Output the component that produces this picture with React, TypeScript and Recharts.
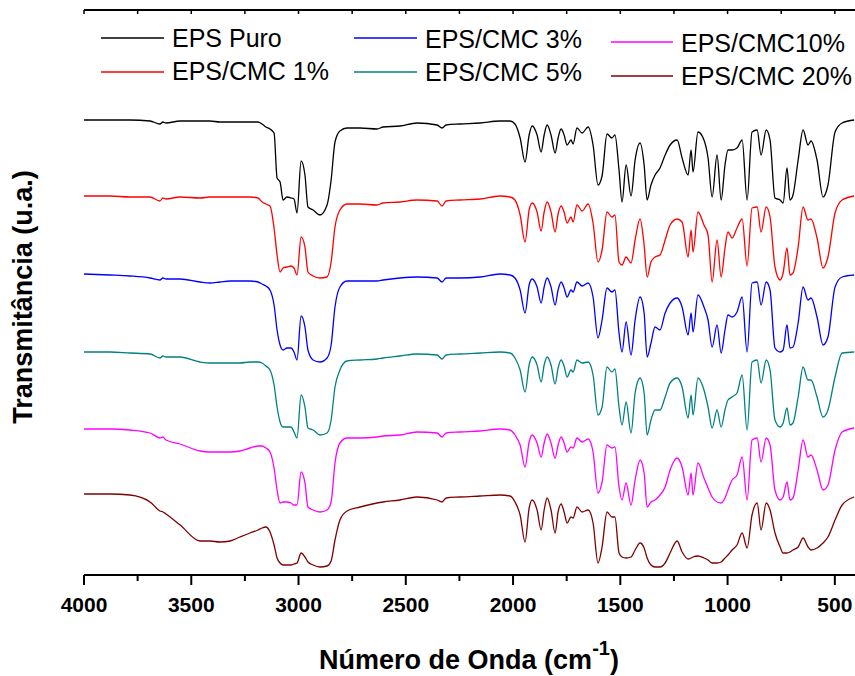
import React from 'react';
import { LineChart, Line, XAxis, YAxis, Legend, ReferenceLine } from 'recharts';

// Wavenumbers (cm-1), shared grid for all spectra
const wavenumbers = [
  4000, 3879, 3786, 3692, 3646, 3632, 3618, 3552, 3459, 3413,
  3366, 3319, 3273, 3226, 3189,
  3170, 3152, 3133, 3114, 3100, 3086, 3072, 3054, 3035, 3021, 3007,
  2988, 2970, 2956, 2932, 2900, 2867, 2848, 2830, 2807, 2774,
  2713, 2634, 2606, 2527, 2448, 2354, 2331, 2312, 2247, 2154,
  2061, 2014, 1991, 1967, 1944, 1925, 1911, 1888, 1869, 1855,
  1841, 1823, 1804, 1790, 1776, 1762, 1748, 1730, 1720, 1702,
  1678, 1650, 1627, 1604, 1585, 1562, 1539, 1525, 1506, 1492,
  1473, 1450, 1431, 1408, 1389, 1375, 1357, 1338, 1315, 1291,
  1268, 1235, 1212, 1184, 1170, 1161, 1138, 1110, 1091, 1072,
  1049, 1030, 1012, 998, 979, 956, 932, 909, 886, 862,
  844, 820, 802, 779, 755, 741, 723, 709, 695, 671,
  648, 625, 611, 583, 555, 532, 499, 466, 410,
];

// Transmittance (arbitrary units, stacked)
const epsPuro = [
  455, 455, 455, 454, 451, 453, 452, 454, 454, 454,
  453, 453, 453, 453, 453,
  451, 448, 446, 442, 397, 393, 375, 378, 377, 376, 362,
  414, 400, 368, 365, 360, 370, 395, 433, 444, 447,
  447, 446, 448, 449, 452, 450, 447, 450, 451, 452,
  454, 454, 451, 437, 413, 440, 449, 440, 423, 440,
  450, 440, 422, 437, 446, 440, 430, 435, 431, 447,
  442, 448, 430, 390, 399, 441, 437, 440, 405, 373,
  410, 379, 415, 432, 410, 375, 390, 400, 407, 420,
  430, 435, 417, 400, 425, 403, 443, 435, 417, 378,
  420, 375, 410, 425, 425, 427, 435, 375, 443, 445,
  420, 445, 435, 377, 375, 372, 407, 375, 380, 415,
  445, 430, 434, 415, 378, 390, 443, 452, 455,
];

const epsCmc1 = [
  379, 379, 378, 378, 374, 377, 376, 378, 377, 378,
  378, 378, 378, 378, 377,
  373, 371, 369, 347, 320, 303, 307, 308, 309, 307, 300,
  338, 328, 303, 299, 297, 298, 313, 348, 365, 371,
  371, 370, 372, 373, 375, 374, 369, 374, 375, 376,
  379, 378, 375, 360, 333, 365, 372, 363, 344, 363,
  373, 363, 343, 361, 369, 363, 352, 358, 353, 370,
  364, 371, 352, 313, 325, 363, 358, 360, 313, 310,
  318, 312, 335, 356, 330, 298, 313, 318, 320, 335,
  350, 356, 353, 318, 345, 323, 363, 350, 340, 293,
  335, 298, 327, 343, 337, 347, 356, 309, 367, 368,
  343, 368, 358, 308, 295, 302, 327, 300, 302, 328,
  368, 355, 356, 337, 307, 318, 362, 375, 379,
];

const epsCmc3 = [
  301, 300, 299, 297, 295, 297, 296, 296, 293, 292,
  293, 294, 294, 294, 293,
  291, 289, 285, 270, 245, 230, 225, 227, 227, 223, 215,
  259, 248, 225, 215, 213, 217, 230, 268, 288, 294,
  294, 294, 295, 297, 298, 297, 293, 297, 297, 298,
  301, 300, 297, 285, 262, 290, 296, 288, 272, 288,
  297, 288, 270, 285, 293, 287, 278, 285, 283, 293,
  289, 292, 278, 237, 255, 287, 283, 285, 242, 223,
  253, 220, 255, 278, 262, 218, 232, 248, 245, 262,
  272, 277, 268, 240, 262, 243, 280, 268, 255, 228,
  250, 222, 245, 260, 258, 263, 278, 223, 292, 293,
  270, 293, 285, 227, 223, 225, 250, 227, 228, 252,
  288, 275, 277, 258, 230, 238, 288, 298, 300,
];

const epsCmc5 = [
  223, 223, 222, 221, 217, 219, 218, 218, 213, 212,
  212, 212, 212, 213, 213,
  212, 209, 205, 190, 168, 153, 148, 148, 148, 143, 137,
  180, 168, 147, 145, 140, 142, 155, 188, 205, 214,
  215, 216, 217, 219, 221, 220, 216, 220, 221, 222,
  223, 222, 217, 205, 183, 210, 218, 210, 193, 210,
  218, 210, 191, 207, 215, 209, 198, 205, 203, 215,
  212, 213, 200, 160, 168, 208, 203, 206, 168, 150,
  173, 142, 182, 197, 182, 140, 155, 165, 165, 178,
  192, 197, 188, 157, 180, 160, 197, 185, 168, 147,
  165, 148, 165, 175, 178, 182, 200, 145, 213, 215,
  192, 215, 205, 155, 148, 152, 167, 150, 152, 178,
  208, 195, 195, 178, 158, 165, 198, 222, 223,
];

const epsCmc10 = [
  146, 146, 145, 142, 137, 138, 135, 131, 124, 123,
  123, 123, 124, 127, 129,
  129, 127, 123, 107, 85, 72, 73, 73, 72, 70, 70,
  103, 92, 68, 65, 63, 65, 73, 112, 132, 137,
  137, 138, 139, 140, 143, 142, 138, 142, 143, 144,
  146, 145, 140, 130, 108, 133, 140, 132, 118, 132,
  141, 132, 117, 130, 138, 132, 123, 128, 127, 137,
  133, 136, 123, 82, 93, 130, 127, 128, 88, 75,
  92, 70, 95, 115, 102, 68, 73, 75, 80, 88,
  105, 117, 108, 80, 102, 80, 112, 97, 87, 78,
  73, 72, 77, 85, 95, 100, 118, 75, 135, 137,
  113, 137, 130, 85, 75, 78, 93, 75, 77, 105,
  135, 118, 120, 105, 85, 90, 125, 143, 147,
];

const epsCmc20 = [
  81, 81, 80, 73, 64, 63, 61, 50, 34, 34,
  33, 34, 38, 42, 45,
  47, 48, 43, 30, 17, 12, 10, 10, 10, 11, 12,
  22, 18, 13, 10, 8, 9, 14, 35, 55, 64,
  68, 72, 73, 75, 78, 75, 73, 77, 78, 79,
  80, 79, 73, 60, 33, 67, 75, 65, 45, 65,
  77, 65, 42, 63, 71, 63, 52, 58, 57, 68,
  63, 65, 52, 12, 28, 63, 58, 58, 22, 18,
  17, 18, 25, 32, 27, 17, 10, 8, 8, 12,
  22, 34, 23, 16, 17, 18, 19, 17, 15, 12,
  12, 13, 17, 20, 25, 30, 42, 27, 60, 72,
  45, 72, 65, 42, 28, 22, 22, 23, 25, 28,
  37, 28, 25, 27, 32, 38, 55, 70, 78,
];

const seriesNames = ['EPS Puro', 'EPS/CMC 1%', 'EPS/CMC 3%', 'EPS/CMC 5%', 'EPS/CMC10%', 'EPS/CMC 20%'];
const seriesKeys = ['puro', 'cmc1', 'cmc3', 'cmc5', 'cmc10', 'cmc20'];
const seriesValues = [epsPuro, epsCmc1, epsCmc3, epsCmc5, epsCmc10, epsCmc20];
const seriesColors = ['#000000', '#ff0000', '#0000ff', '#008080', '#ff00ff', '#800000'];

const majorTicks = [4000, 3500, 3000, 2500, 2000, 1500, 1000, 500];
const allTicks = [4000, 3750, 3500, 3250, 3000, 2750, 2500, 2250, 2000, 1750, 1500, 1250, 1000, 750, 500];
const yTop = 565;

const data = wavenumbers.map((wn, i) => {
  const row: Record<string, number> = { wn };
  seriesKeys.forEach((k, j) => {
    row[k] = seriesValues[j][i];
  });
  return row;
});

const FONT = 'Liberation Sans, Arial, Helvetica, sans-serif';

const legendCols = [
  { x1: 101, x2: 164, tx: 172, ly: [38, 72], ty: [47, 80] },
  { x1: 354, x2: 417, tx: 425, ly: [38, 72], ty: [48, 81] },
  { x1: 611, x2: 673, tx: 681, ly: [42, 76], ty: [52, 85] },
];

const BottomTick = (props: any) => {
  const { x, y, payload } = props;
  const major = majorTicks.includes(payload.value);
  return (
    <g>
      <line x1={x} x2={x} y1={y} y2={y + (major ? 10 : 6)} stroke="#000" strokeWidth={2} />
      {major && (
        <text x={x} y={y + 37} textAnchor="middle" fontFamily={FONT} fontWeight="bold" fontSize={21} fill="#000">
          {payload.value}
        </text>
      )}
    </g>
  );
};

const renderLegend = () => (
  <svg width={855} height={100}>
    {seriesNames.map((name, i) => {
      const col = legendCols[Math.floor(i / 2)];
      const r = i % 2;
      return (
        <g key={name}>
          <line x1={col.x1} x2={col.x2} y1={col.ly[r]} y2={col.ly[r]} stroke={seriesColors[i]} strokeWidth={1.3} />
          <text x={col.tx} y={col.ty[r]} fontFamily={FONT} fontSize={25} fill="#000">
            {name}
          </text>
        </g>
      );
    })}
  </svg>
);

export default function App() {
  return (
    <div style={{ position: 'absolute', left: 0, top: 0, width: 855, height: 676, background: '#fff' }}>
      <LineChart width={855} height={676} data={data} margin={{ top: 10, right: 0, left: 84, bottom: 61 }}>
        <XAxis
          dataKey="wn"
          type="number"
          domain={[406, 4000]}
          reversed
          allowDataOverflow
          ticks={allTicks}
          interval={0}
          height={40}
          tickSize={0}
          tickMargin={0}
          tickLine={false}
          tick={<BottomTick />}
          axisLine={{ stroke: '#000', strokeWidth: 2 }}
        />
        <YAxis
          type="number"
          domain={[0, yTop]}
          allowDataOverflow
          width={0}
          tick={false}
          tickLine={false}
          axisLine={{ stroke: '#000', strokeWidth: 2 }}
        />
        <ReferenceLine y={yTop} stroke="#000" strokeWidth={2} ifOverflow="visible" />
        {allTicks.map((t) => (
          <ReferenceLine
            key={'tt' + t}
            segment={[{ x: t, y: yTop }, { x: t, y: yTop - 4 }]}
            stroke="#000"
            strokeWidth={1.5}
            ifOverflow="visible"
          />
        ))}
        <Legend
          layout="horizontal"
          verticalAlign="middle"
          align="center"
          wrapperStyle={{ top: 0, left: 0, width: 855, height: 100 }}
          content={renderLegend}
        />
        {seriesKeys.map((k, i) => (
          <Line
            key={k}
            type="monotoneX"
            dataKey={k}
            name={seriesNames[i]}
            stroke={seriesColors[i]}
            strokeWidth={1.3}
            dot={false}
            activeDot={false}
            isAnimationActive={false}
          />
        ))}
      </LineChart>
      <div
        style={{
          position: 'absolute',
          left: 0,
          top: 647,
          width: 938,
          textAlign: 'center',
          fontFamily: FONT,
          fontWeight: 'bold',
          fontSize: 27,
          lineHeight: '27px',
          color: '#000',
          whiteSpace: 'nowrap',
        }}
      >
        Número de Onda (cm
        <span style={{ fontSize: 20, position: 'relative', top: -14 }}>-1</span>)
      </div>
      <div
        style={{
          position: 'absolute',
          left: 23 - 150,
          top: 297 - 15,
          width: 300,
          height: 30,
          lineHeight: '30px',
          textAlign: 'center',
          transform: 'rotate(-90deg)',
          fontFamily: FONT,
          fontWeight: 'bold',
          fontSize: 27,
          color: '#000',
          whiteSpace: 'nowrap',
        }}
      >
        Transmitância (u.a.)
      </div>
    </div>
  );
}
